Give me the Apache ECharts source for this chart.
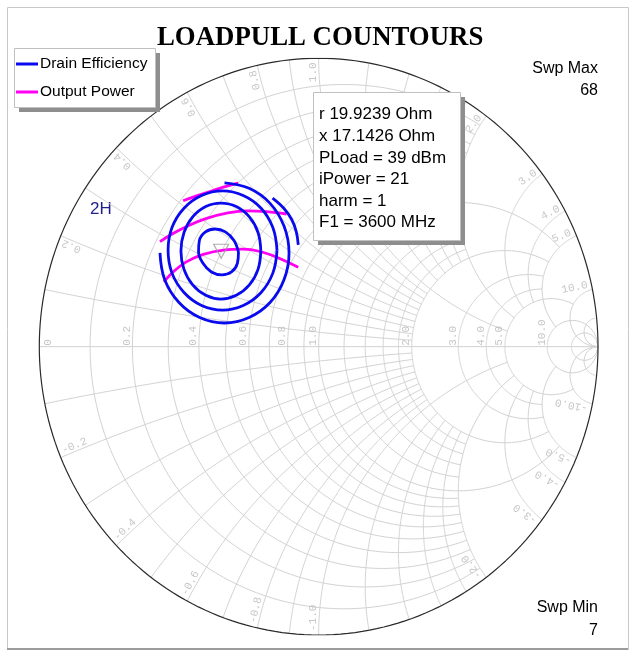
<!DOCTYPE html>
<html>
<head>
<meta charset="utf-8">
<script src="https://cdn.jsdelivr.net/npm/echarts@6/dist/echarts.min.js"></script>
<style>
  html, body { margin: 0; padding: 0; background: #ffffff; }
  #chart { width: 631px; height: 651px; }
</style>
</head>
<body>
<div id="chart"></div>
<script>
// Reference impedance of the chart (ohm)
const Z0 = 50;

// Smith grid: normalised values of each family and how far each one runs
// along the other family (Infinity = full circle / arc)
const gridFine = [0.1, 0.2, 0.3, 0.4, 0.5, 0.6, 0.7, 0.8, 0.9];
const gridUnit = [1.0];
const gridMid = [1.2, 1.4, 1.6, 1.8];
const gridTwo = [2.0];
const gridHigh = [3, 4];
const gridFive = [5];
const gridTen = [10];
const gridOuter = [20];
const gridLevels = [
  { values: gridFine, limit: 2 },
  { values: gridUnit, limit: 5 },
  { values: gridMid, limit: 2 },
  { values: gridTwo, limit: 5 },
  { values: gridHigh, limit: 5 },
  { values: gridFive, limit: 10 },
  { values: gridTen, limit: Infinity },
  { values: gridOuter, limit: Infinity }
];

// Labelled grid values
const resistanceTicks = [0.2, 0.4, 0.6, 0.8, 1, 2, 3, 4, 5, 10];
const reactanceTicks = [0.2, 0.4, 0.6, 0.8, 1, 2, 3, 4, 5, 10];

// Load-pull contours, reflection coefficient [re, im]
const drainEff1 = [[-0.287,0.328],[-0.303,0.368],[-0.334,0.398],[-0.371,0.408],[-0.405,0.398],[-0.427,0.368],[-0.430,0.328],[-0.414,0.289],[-0.384,0.259],[-0.346,0.249],[-0.312,0.259],[-0.291,0.289],[-0.287,0.328]];
const drainEff2 = [[-0.207,0.332],[-0.217,0.396],[-0.248,0.450],[-0.295,0.486],[-0.350,0.498],[-0.404,0.486],[-0.451,0.450],[-0.482,0.396],[-0.493,0.332],[-0.482,0.268],[-0.451,0.214],[-0.404,0.178],[-0.350,0.165],[-0.295,0.178],[-0.248,0.214],[-0.217,0.268],[-0.207,0.332]];
const drainEff3 = [[-0.149,0.334],[-0.164,0.413],[-0.206,0.480],[-0.270,0.524],[-0.344,0.540],[-0.419,0.524],[-0.482,0.480],[-0.525,0.413],[-0.539,0.334],[-0.525,0.255],[-0.482,0.188],[-0.419,0.143],[-0.344,0.127],[-0.270,0.143],[-0.206,0.188],[-0.164,0.255],[-0.149,0.334]];
const drainEff4 = [[-0.568,0.325],[-0.551,0.232],[-0.500,0.153],[-0.426,0.101],[-0.337,0.082],[-0.249,0.101],[-0.174,0.153],[-0.124,0.232],[-0.106,0.325],[-0.124,0.418],[-0.174,0.497],[-0.249,0.549],[-0.337,0.568]];
const drainEff5 = [[-0.165,0.515],[-0.124,0.479],[-0.096,0.440],[-0.080,0.398],[-0.073,0.353]];
const outPower1 = [[-0.485,0.506],[-0.437,0.523],[-0.389,0.538],[-0.341,0.553],[-0.288,0.567]];
const outPower2 = [[-0.568,0.364],[-0.520,0.393],[-0.461,0.422],[-0.401,0.445],[-0.329,0.463],[-0.258,0.471],[-0.186,0.468],[-0.115,0.460]];
const outPower3 = [[-0.554,0.225],[-0.520,0.260],[-0.472,0.295],[-0.413,0.320],[-0.341,0.335],[-0.270,0.338],[-0.210,0.330],[-0.150,0.310],[-0.073,0.275]];

// Marker impedance (ohm)
const markerR = 19.9239;
const markerX = 17.1426;
const markerLines = ['r 19.9239 Ohm', 'x 17.1426 Ohm', 'PLoad = 39 dBm', 'iPower = 21', 'harm = 1', 'F1 = 3600 MHz'];
const sweepMax = 68;
const sweepMin = 7;

// z -> reflection coefficient
function gamma(r, x) {
  const nr = r - 1, ni = x, dr = r + 1, di = x;
  const d = dr * dr + di * di;
  return [(nr * dr + ni * di) / d, (ni * dr - nr * di) / d];
}

function resistanceCircle(r, lim) {
  const a = Math.atan(Math.min(lim, 1e6));
  const pts = [];
  const n = 240;
  for (let i = 0; i <= n; i++) {
    const x = Math.tan(-a + 2 * a * i / n);
    pts.push(gamma(r, x));
  }
  return pts;
}
function reactanceArc(x, lim) {
  const a = Math.atan(Math.min(lim, 1e6));
  const pts = [];
  const n = 160;
  for (let i = 0; i <= n; i++) {
    const r = Math.tan(a * i / n);
    pts.push(gamma(r, x));
  }
  return pts;
}

const gridPaths = [];
gridLevels.forEach(level => {
  level.values.forEach(v => {
    gridPaths.push({ coords: resistanceCircle(v, level.limit) });
    gridPaths.push({ coords: reactanceArc(v, level.limit) });
    gridPaths.push({ coords: reactanceArc(-v, level.limit) });
  });
});
// real axis (x = 0)
gridPaths.push({ coords: [[-1, 0], [1, 0]] });

// Rim (r = 0)
const rim = resistanceCircle(0, Infinity);

// Tick label anchors
const tickLabels = [];
resistanceTicks.forEach(r => {
  const g = gamma(r, 0);
  tickLabels.push({
    value: [g[0], 0.003],
    label: { formatter: r.toFixed(1), rotate: 90, align: 'left', verticalAlign: 'bottom' }
  });
});
tickLabels.push({
  value: [-0.949, 0.003],
  label: { formatter: '0', rotate: 90, align: 'left', verticalAlign: 'bottom' }
});
reactanceTicks.forEach(x => {
  [x, -x].forEach(v => {
    const g = gamma(0, v);
    const deg = Math.atan2(g[1], g[0]) * 180 / Math.PI;
    const k = 0.986;
    const upper = v > 0;
    tickLabels.push({
      value: [g[0] * k, g[1] * k],
      label: {
        formatter: (v < 0 ? '-' : '') + Math.abs(v).toFixed(1),
        rotate: upper ? deg : deg + 180,
        align: upper ? 'right' : 'left',
        verticalAlign: 'bottom'
      }
    });
  });
});

const marker = gamma(markerR / Z0, markerX / Z0);

const contourStyle = (color) => ({
  type: 'line', smooth: 0.4, symbol: 'none', silent: true,
  lineStyle: { color: color, width: 2.8 }, itemStyle: { color: color }
});

const chart = echarts.init(document.getElementById('chart'), null, { renderer: 'canvas' });

const seriesList = [
  {
    type: 'lines', coordinateSystem: 'cartesian2d', polyline: true, silent: true,
    lineStyle: { color: '#d2d2d2', width: 1, opacity: 1 },
    data: gridPaths, z: 1
  },
  {
    type: 'line', data: rim, symbol: 'none', silent: true,
    lineStyle: { color: '#2a2a2a', width: 1.2 }, z: 2
  },
  {
    type: 'scatter', data: tickLabels, symbolSize: 0, silent: true, z: 3,
    label: { show: true, position: [0, 0], fontFamily: 'Liberation Mono', fontSize: 11, color: '#b8b8b8' }
  }
];

[drainEff1, drainEff2, drainEff3, drainEff4, drainEff5].forEach(d => {
  seriesList.push(Object.assign({ name: 'Drain Efficiency', data: d, z: 5 }, contourStyle('#0a0aee')));
});
[outPower1, outPower2, outPower3].forEach(d => {
  seriesList.push(Object.assign({ name: 'Output Power', data: d, z: 4 }, contourStyle('#ff00f0')));
});
seriesList.push({
  type: 'scatter', data: [marker], symbol: 'triangle', symbolRotate: 180, symbolSize: [15, 14],
  silent: true, z: 6,
  itemStyle: { color: 'rgba(0,0,0,0)', borderColor: '#9a9a9a', borderWidth: 1.2 }
});

// flat drop-shadowed box: gray rect behind, white bordered rect in front
function shadowBox(x, y, w, h, z) {
  return [
    { type: 'rect', left: x + 5, top: y + 5, z: z, silent: true,
      shape: { width: w, height: h }, style: { fill: '#8e8e8e' } },
    { type: 'rect', left: x, top: y, z: z + 1, silent: true,
      shape: { width: w, height: h }, style: { fill: '#ffffff', stroke: '#c0c0c0', lineWidth: 1 } }
  ];
}

chart.setOption({
  animation: false,
  backgroundColor: '#ffffff',
  title: {
    text: 'LOADPULL COUNTOURS', left: 152, top: 20,
    textStyle: { fontFamily: 'Liberation Serif', fontWeight: 'bold', fontSize: 26.8, color: '#000000' }
  },
  legend: {
    orient: 'vertical', left: 14, top: 48, z: 30,
    data: ['Drain Efficiency', 'Output Power'],
    icon: 'rect', itemWidth: 22, itemHeight: 3, itemGap: 12,
    padding: [8, 6, 7, 2],
    textStyle: { fontFamily: 'Liberation Sans', fontSize: 15.5, color: '#000000', padding: [0, 0, 0, -3] },
    selectedMode: false
  },
  grid: { left: 39.3, top: 58.3, width: 558.7, height: 576.7 },
  xAxis: { type: 'value', min: -1, max: 1, show: false },
  yAxis: { type: 'value', min: -1, max: 1, show: false },
  series: seriesList,
  graphic: [
    {
      type: 'rect', left: 5, top: 5, z: -10, silent: true,
      shape: { width: 621, height: 642 },
      style: { fill: 'none', stroke: '#c8c8c8', lineWidth: 1 }
    },
    {
      type: 'line', z: -10, silent: true,
      shape: { x1: 7, y1: 649, x2: 628, y2: 649 },
      style: { stroke: '#9c9c9c', lineWidth: 2 }
    },
    ...shadowBox(14, 48, 141, 59, 20),
    ...shadowBox(313, 92, 147, 148, 100),
    {
      type: 'text', left: 90, top: 201, silent: true,
      style: { text: '2H', fill: '#1e1e8c', font: '17px "Liberation Sans"' }
    },
    {
      type: 'text', right: 33, top: 61, silent: true,
      style: { text: 'Swp Max', fill: '#000', font: '16px "Liberation Sans"' }
    },
    {
      type: 'text', right: 33, top: 83, silent: true,
      style: { text: String(sweepMax), fill: '#000', font: '16px "Liberation Sans"' }
    },
    {
      type: 'text', right: 33, top: 600, silent: true,
      style: { text: 'Swp Min', fill: '#000', font: '16px "Liberation Sans"' }
    },
    {
      type: 'text', right: 33, top: 623, silent: true,
      style: { text: String(sweepMin), fill: '#000', font: '16px "Liberation Sans"' }
    },
    {
      type: 'text', left: 319, top: 104, z: 102, silent: true,
      style: { text: markerLines.join('\n'), fill: '#000', font: '17px "Liberation Sans"', lineHeight: 21.6 }
    }
  ]
});
</script>
</body>
</html>
